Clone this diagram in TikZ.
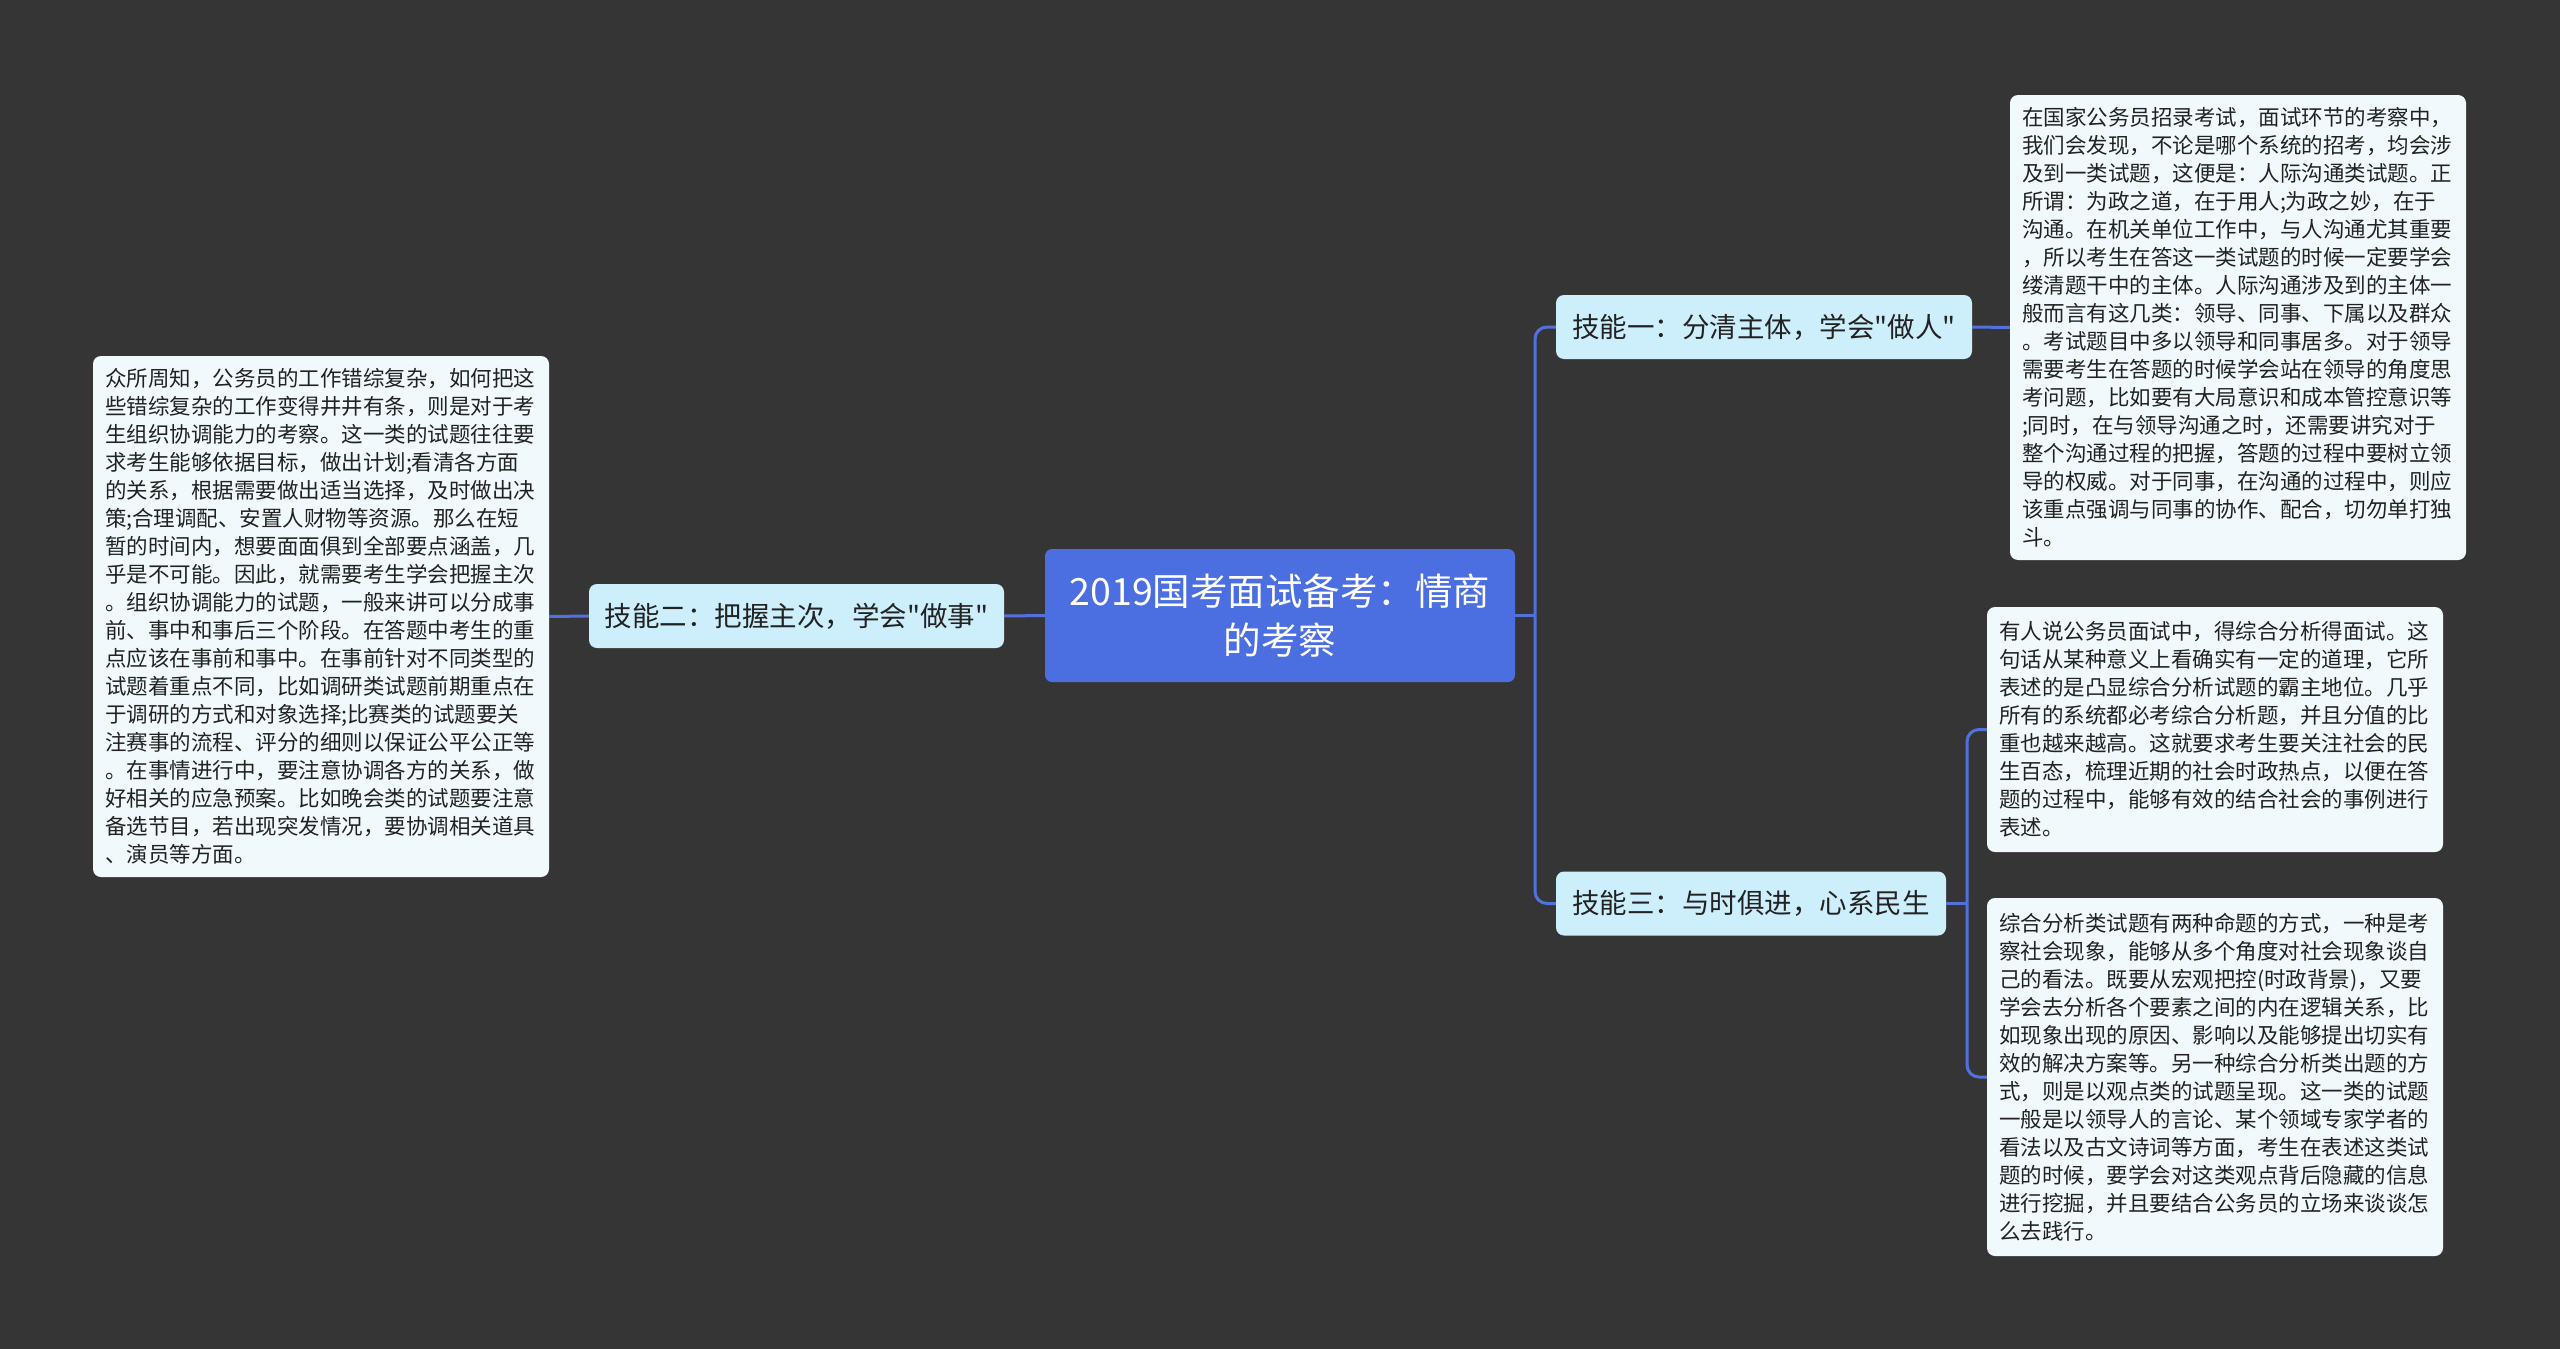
\documentclass[tikz,border=0pt]{standalone}
\usepackage{fontspec}
\setmainfont[Ligatures=TeXOff]{Noto Sans CJK SC}
\definecolor{bg}{RGB}{54,53,54}
\definecolor{mainblue}{RGB}{75,110,224}
\definecolor{linkblue}{RGB}{82,112,222}
\definecolor{skillfill}{RGB}{205,239,252}
\definecolor{notefill}{RGB}{240,250,253}
\definecolor{ink}{RGB}{34,34,34}
\tikzset{
  rootbox/.style={fill=mainblue, rounded corners=7pt, minimum width=470pt, minimum height=133pt,
    text=white, font=\fontsize{37.5}{49}\selectfont, align=center, inner sep=0pt},
  skillbox/.style={fill=skillfill, rounded corners=8pt, minimum height=64pt, text=ink,
    font=\fontsize{27.5}{34}\selectfont, inner sep=0pt},
  notebox/.style={fill=notefill, rounded corners=8pt, text=ink, font=\fontsize{21.5}{28}\selectfont,
    align=left, inner xsep=12pt, inner ysep=0pt, text width=432pt},
  conn/.style={draw=linkblue, line width=3pt},
}
\begin{document}
\begin{tikzpicture}[x=1pt,y=-1pt]
\fill[bg] (0,0) rectangle (2560,1349);
\useasboundingbox (0,0) rectangle (2560,1349);

\node[rootbox] (root) at (1280,615.5) {2019国考面试备考：情商\\的考察};

\node[skillbox, minimum width=416pt] (s1) at (1764,327) {技能一：分清主体，学会"做人"};
\node[skillbox, minimum width=415pt] (s2) at (796.5,616) {技能二：把握主次，学会"做事"};
\node[skillbox, minimum width=390pt] (s3) at (1751,903.5) {技能三：与时俱进，心系民生};

\node[notebox, minimum height=521pt] (n2) at (321,616.5) {众所周知，公务员的工作错综复杂，如何把这\\
些错综复杂的工作变得井井有条，则是对于考\\
生组织协调能力的考察。这一类的试题往往要\\
求考生能够依据目标，做出计划;看清各方面\\
的关系，根据需要做出适当选择，及时做出决\\
策;合理调配、安置人财物等资源。那么在短\\
暂的时间内，想要面面俱到全部要点涵盖，几\\
乎是不可能。因此，就需要考生学会把握主次\\
。组织协调能力的试题，一般来讲可以分成事\\
前、事中和事后三个阶段。在答题中考生的重\\
点应该在事前和事中。在事前针对不同类型的\\
试题着重点不同，比如调研类试题前期重点在\\
于调研的方式和对象选择;比赛类的试题要关\\
注赛事的流程、评分的细则以保证公平公正等\\
。在事情进行中，要注意协调各方的关系，做\\
好相关的应急预案。比如晚会类的试题要注意\\
备选节目，若出现突发情况，要协调相关道具\\
、演员等方面。};

\node[notebox, minimum height=465pt] (n1) at (2238,327.5) {在国家公务员招录考试，面试环节的考察中，\\
我们会发现，不论是哪个系统的招考，均会涉\\
及到一类试题，这便是：人际沟通类试题。正\\
所谓：为政之道，在于用人;为政之妙，在于\\
沟通。在机关单位工作中，与人沟通尤其重要\\
，所以考生在答这一类试题的时候一定要学会\\
缕清题干中的主体。人际沟通涉及到的主体一\\
般而言有这几类：领导、同事、下属以及群众\\
。考试题目中多以领导和同事居多。对于领导\\
需要考生在答题的时候学会站在领导的角度思\\
考问题，比如要有大局意识和成本管控意识等\\
;同时，在与领导沟通之时，还需要讲究对于\\
整个沟通过程的把握，答题的过程中要树立领\\
导的权威。对于同事，在沟通的过程中，则应\\
该重点强调与同事的协作、配合，切勿单打独\\
斗。};

\node[notebox, minimum height=245pt] (n3) at (2215,729.5) {有人说公务员面试中，得综合分析得面试。这\\
句话从某种意义上看确实有一定的道理，它所\\
表述的是凸显综合分析试题的霸主地位。几乎\\
所有的系统都必考综合分析题，并且分值的比\\
重也越来越高。这就要求考生要关注社会的民\\
生百态，梳理近期的社会时政热点，以便在答\\
题的过程中，能够有效的结合社会的事例进行\\
表述。};

\node[notebox, minimum height=358pt] (n4) at (2215,1077) {综合分析类试题有两种命题的方式，一种是考\\
察社会现象，能够从多个角度对社会现象谈自\\
己的看法。既要从宏观把控(时政背景)，又要\\
学会去分析各个要素之间的内在逻辑关系，比\\
如现象出现的原因、影响以及能够提出切实有\\
效的解决方案等。另一种综合分析类出题的方\\
式，则是以观点类的试题呈现。这一类的试题\\
一般是以领导人的言论、某个领域专家学者的\\
看法以及古文诗词等方面，考生在表述这类试\\
题的时候，要学会对这类观点背后隐藏的信息\\
进行挖掘，并且要结合公务员的立场来谈谈怎\\
么去践行。};

\coordinate (jr) at (1535,615.5);
\coordinate (jr2) at (1967,903.5);
\draw[conn] (root.east) -- (jr);
\draw[conn, rounded corners=12pt] (jr) |- (s1.west);
\draw[conn, rounded corners=12pt] (jr) |- (s3.west);
\draw[conn] (s1.east) -- (n1.west);
\draw[conn] (root.west) -- (s2.east);
\draw[conn] (s2.west) -- (n2.east);
\draw[conn] (s3.east) -- (jr2);
\draw[conn, rounded corners=12pt] (jr2) |- (n3.west);
\draw[conn, rounded corners=12pt] (jr2) |- (n4.west);
\end{tikzpicture}
\end{document}
